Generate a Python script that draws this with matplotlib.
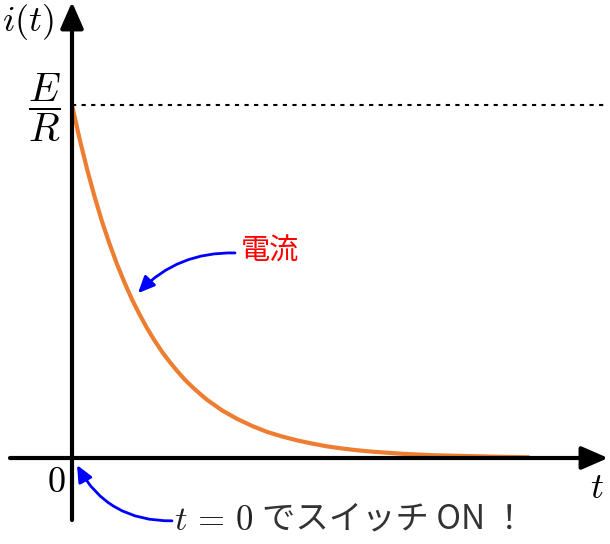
import matplotlib
matplotlib.use("Agg")
import matplotlib.pyplot as plt

plt.rcParams['font.family'] = ['Noto Sans CJK JP', 'DejaVu Sans']
plt.rcParams['mathtext.fontset'] = 'cm'

# current (t in units of the time constant, i in units of E/R)
t_vals = [0, 0.1, 0.2, 0.3, 0.4, 0.5, 0.6, 0.7, 0.8, 0.9, 1.0, 1.1, 1.2, 1.3,
          1.4, 1.5, 1.6, 1.7, 1.8, 1.9, 2.0, 2.2, 2.4, 2.6, 2.8, 3.0, 3.2, 3.4,
          3.6, 3.8, 4.0, 4.4, 4.8, 5.2, 5.6, 6.1]
i_vals = [1.000, 0.905, 0.819, 0.741, 0.670, 0.607, 0.549, 0.497, 0.449, 0.407,
          0.368, 0.333, 0.301, 0.273, 0.247, 0.223, 0.202, 0.183, 0.165, 0.150,
          0.135, 0.111, 0.091, 0.074, 0.061, 0.050, 0.041, 0.033, 0.027, 0.022,
          0.018, 0.012, 0.008, 0.006, 0.004, 0.002]
i_max = 1.0

fig = plt.figure(figsize=(6.1, 5.44), dpi=100)
ax = fig.add_axes([0, 0, 1, 1])
ax.set_xlim(-0.96, 7.173)
ax.set_ylim(-0.2436, 1.2975)
ax.axis('off')

# axes with arrow heads
axis_style = dict(arrowstyle='-|>,head_length=1.6,head_width=0.7', lw=3, color='black',
                  shrinkA=0, shrinkB=0)
ax.annotate('', xy=(7.147, 0), xytext=(-0.827, 0), arrowprops=axis_style)
ax.annotate('', xy=(0, 1.292), xytext=(0, -0.1756), arrowprops=axis_style)

# E/R level
ax.plot([0, 7.107], [i_max, i_max], color='black', lw=1.5, dashes=(2, 2.6))

# current curve
ax.plot(t_vals, i_vals, color='#ED7D31', lw=3, solid_capstyle='butt')

# labels
ax.text(-0.587, 1.235, r'$i(t)$', fontsize=26, ha='center', va='center')
ax.text(-0.373, 0.991, r'$\dfrac{E}{R}$', fontsize=29, ha='center', va='center')
ax.text(-0.213, -0.068, r'$0$', fontsize=26, ha='center', va='center')
ax.text(7.0, -0.085, r'$t$', fontsize=26, ha='center', va='center')

ax.text(2.64, 0.584, '電流', fontsize=21, color='#ff0000', ha='center', va='center')
ax.text(1.36, -0.178, r'$t\,=\,0$', fontsize=25, color='#222222', ha='left', va='center')
ax.text(2.53, -0.172, 'でスイッチ ON ！', fontsize=24, color='#333333',
        ha='left', va='center')

blue_style = dict(arrowstyle='-|>,head_length=1.0,head_width=0.45', lw=2, color='#0000ff',
                  shrinkA=0, shrinkB=0)
ax.annotate('', xy=(0.88, 0.467), xytext=(2.173, 0.581),
            arrowprops=dict(blue_style, connectionstyle='arc3,rad=0.22'))
ax.annotate('', xy=(0.067, -0.020), xytext=(1.333, -0.178),
            arrowprops=dict(blue_style, connectionstyle='arc3,rad=-0.3'))

fig.savefig('out.png', dpi=100)
